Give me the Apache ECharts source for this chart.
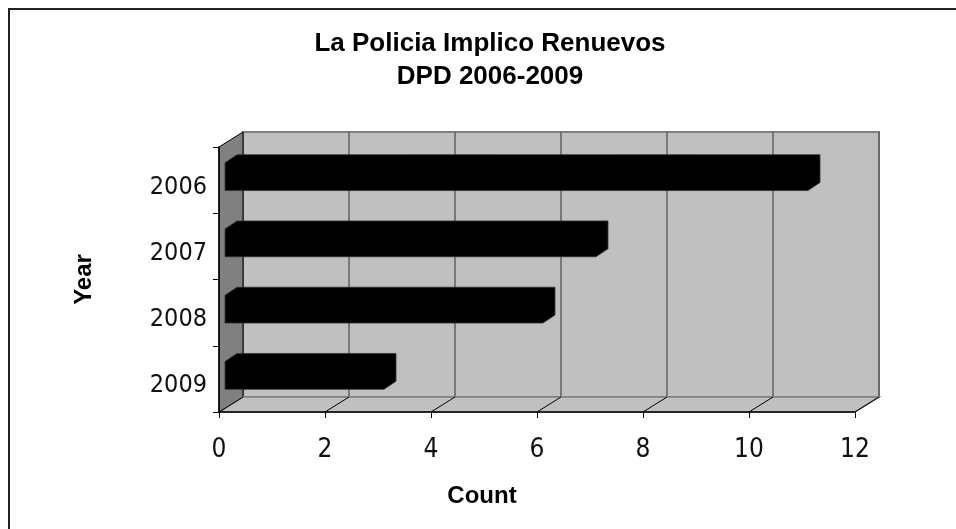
<!DOCTYPE html>
<html>
<head>
<meta charset="utf-8">
<script src="https://cdn.jsdelivr.net/npm/echarts@6/dist/echarts.min.js"></script>
<style>
  html, body { margin: 0; padding: 0; background: #fff; }
  #chart { width: 956px; height: 529px; }
</style>
</head>
<body>
<div id="chart"></div>
<script>
const years = ["2006", "2007", "2008", "2009"];
const counts = [11, 7, 6, 3];
const countTicks = [0, 2, 4, 6, 8, 10, 12];

// 3d depth offset of the back wall
const DX = 24, DY = 15;
const labelFont = "'Liberation Sans Narrow', 'DejaVu Sans Condensed', sans-serif";
const boldFont = "'Liberation Sans', Arial, sans-serif";

let myChart = echarts.init(document.getElementById("chart"));
myChart.setOption({
  animation: false,
  title: {
    text: "La Policia Implico Renuevos\nDPD 2006-2009",
    left: 490,
    textAlign: "center",
    top: 27,
    padding: 0,
    textStyle: { fontFamily: boldFont, fontWeight: "bold", fontSize: 26, lineHeight: 33, color: "#000" }
  },
  graphic: [
    {
      type: "polyline",
      shape: { points: [[9, 600], [9, 9], [1000, 9]] },
      style: { fill: "none", stroke: "#222", lineWidth: 2 },
      silent: true
    }
  ],
  grid: [
    { left: 219, top: 147, width: 636, height: 265 },
    {
      left: 219 + DX, top: 147 - DY, width: 636, height: 265,
      show: true, backgroundColor: "#C0C0C0", borderColor: "#808080", borderWidth: 2
    }
  ],
  xAxis: [
    {
      gridIndex: 0,
      type: "value",
      min: 0, max: 12, interval: 2,
      z: 5,
      axisLine: { show: true, lineStyle: { color: "#000", width: 1.5 } },
      axisTick: { show: true, length: 6, lineStyle: { color: "#000" } },
      splitLine: { show: false },
      axisLabel: { margin: 25, fontFamily: labelFont, fontSize: 26, color: "#111" },
      name: "Count",
      nameLocation: "middle",
      nameGap: 72,
      nameTextStyle: {
        fontFamily: boldFont, fontWeight: "bold", fontSize: 24, color: "#000",
        padding: [0, 110, 0, 0]
      }
    },
    {
      gridIndex: 1,
      type: "value",
      min: 0, max: 12, interval: 2,
      axisLine: { show: false },
      axisTick: { show: false },
      axisLabel: { show: false },
      splitLine: { show: true, lineStyle: { color: "#606060", width: 1.5 } }
    }
  ],
  yAxis: [
    {
      gridIndex: 0,
      type: "category",
      data: years,
      inverse: true,
      z: 5,
      axisLine: { show: true, lineStyle: { color: "#000", width: 1.5 } },
      axisTick: { show: true, length: 6, lineStyle: { color: "#000" } },
      axisLabel: {
        margin: 12, verticalAlign: "top", lineHeight: 14,
        fontFamily: labelFont, fontSize: 25, color: "#111"
      },
      name: "Year",
      nameLocation: "middle",
      nameRotate: 90,
      nameGap: 123,
      nameTextStyle: { fontFamily: boldFont, fontWeight: "bold", fontSize: 24, color: "#000" }
    },
    {
      gridIndex: 1,
      type: "category",
      data: years,
      inverse: true,
      show: false
    }
  ],
  series: [
    {
      // left wall and floor of the 3d box
      type: "custom",
      xAxisIndex: 0,
      yAxisIndex: 0,
      z: 1,
      silent: true,
      data: [[0, 0]],
      renderItem: function(params, api) {
        const cs = params.coordSys;
        const x0 = cs.x, y0 = cs.y, x1 = cs.x + cs.width, y1 = cs.y + cs.height;
        const children = [
          {
            type: "polygon",
            shape: { points: [[x0, y0], [x0 + DX, y0 - DY], [x0 + DX, y1 - DY], [x0, y1]] },
            style: { fill: "#808080", stroke: "#000", lineWidth: 1 }
          },
          {
            type: "polygon",
            shape: { points: [[x0, y1], [x1, y1], [x1 + DX, y1 - DY], [x0 + DX, y1 - DY]] },
            style: { fill: "#C0C0C0", stroke: "#808080", lineWidth: 1.5 }
          }
        ];
        countTicks.forEach(t => {
          const x = api.coord([t, 0])[0];
          children.push({
            type: "line",
            shape: { x1: x, y1: y1, x2: x + DX, y2: y1 - DY },
            style: { stroke: "#000", lineWidth: 1 }
          });
        });
        return { type: "group", children: children };
      }
    },
    {
      type: "custom",
      xAxisIndex: 0,
      yAxisIndex: 0,
      z: 3,
      data: counts.map((c, i) => [c, i]),
      renderItem: function(params, api) {
        const start = api.coord([0, api.value(1)]);
        const end = api.coord([api.value(0), api.value(1)]);
        const band = api.size([0, 1])[1];
        const h = band * 0.42;
        const dx = 6, dy = 4;
        const xa = start[0] + DX / 2, xb = end[0] + DX / 2, yc = start[1] - DY / 2;
        return {
          type: "polygon",
          shape: {
            points: [
              [xa - dx, yc + dy + h / 2],
              [xa - dx, yc + dy - h / 2],
              [xa + dx, yc - dy - h / 2],
              [xb + dx, yc - dy - h / 2],
              [xb + dx, yc - dy + h / 2],
              [xb - dx, yc + dy + h / 2]
            ]
          },
          style: { fill: "#000", stroke: "#333", lineWidth: 0.8 }
        };
      }
    }
  ]
});
</script>
</body>
</html>
